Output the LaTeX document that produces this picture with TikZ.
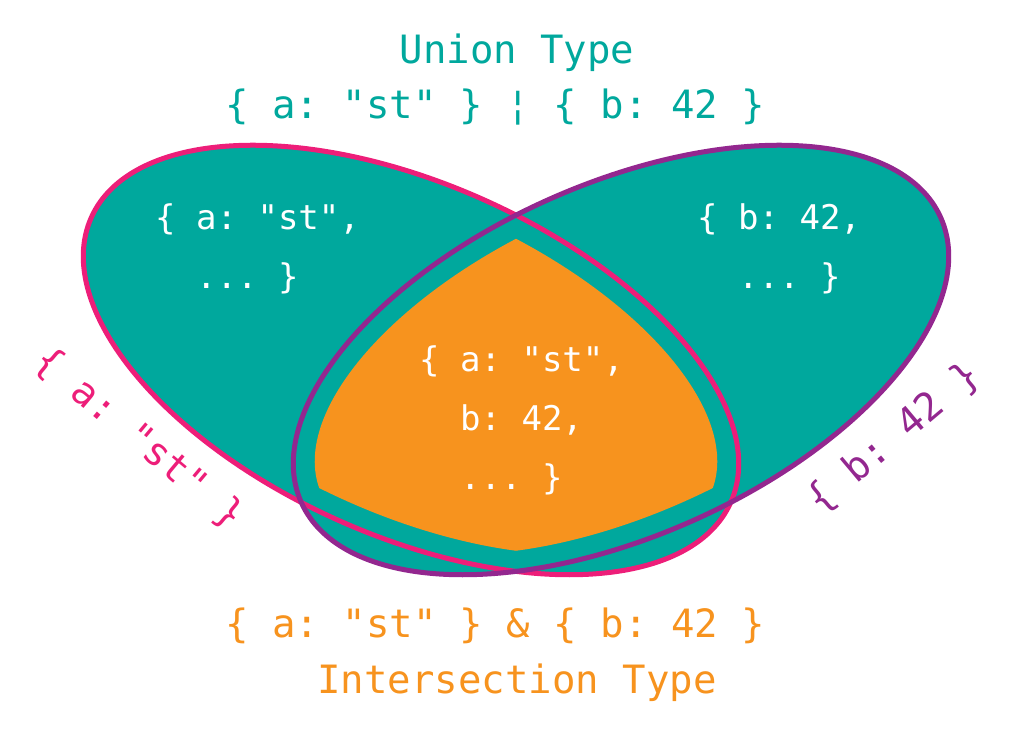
\documentclass[tikz,border=0pt]{standalone}
\usepackage{fontspec}
\newfontfamily\mono{DejaVu Sans Mono}
\definecolor{tealA}{RGB}{0,168,157}
\definecolor{pinkA}{RGB}{237,30,121}
\definecolor{purpleA}{RGB}{147,39,143}
\definecolor{orangeA}{RGB}{247,147,30}
\frenchspacing
\begin{document}
\begin{tikzpicture}[x=1pt,y=1pt,
  title/.style={font=\mono\frenchspacing\fontsize{39}{47}\selectfont, inner sep=0pt},
  inner/.style={font=\mono\frenchspacing\fontsize{34}{59}\selectfont, text=white, align=left, inner sep=0pt, anchor=base west},
  outline/.style={line width=5pt}]
\useasboundingbox (0,0) rectangle (1032,730);
\coordinate (cl) at (411,370);
\coordinate (cr) at (621,370);
% fills
\fill[tealA, rotate around={-24:(cl)}] (cl) ellipse [x radius=350, y radius=176];
\fill[tealA, rotate around={24:(cr)}] (cr) ellipse [x radius=350, y radius=176];
\begin{scope}
  \clip[rotate around={-24:(cl)}] (cl) ellipse [x radius=328, y radius=155];
  \fill[orangeA, rotate around={24:(cr)}] (cr) ellipse [x radius=328, y radius=155];
\end{scope}
% outlines
\draw[outline, pinkA, rotate around={-24:(cl)}] (cl) ellipse [x radius=350, y radius=176];
\draw[outline, purpleA, rotate around={24:(cr)}] (cr) ellipse [x radius=350, y radius=176];
% titles
\node[title, text=tealA, anchor=base] (ut) at (517,666) {Union Type};
\node[title, text=tealA, anchor=base west] (ue) at (225,611) {\{ a: "st" \} ¦ \{ b: 42 \}};
\node[title, text=orangeA, anchor=base west] (ie) at (225,92) {\{ a: "st" \} \& \{ b: 42 \}};
\node[title, text=orangeA, anchor=base] (it) at (517,37) {Intersection Type};
% inner texts (base = baseline of last line)
\node[inner] (la) at (155,441.5) {\{ a: "st",\\\hspace*{1.204em}... \}};
\node[inner] (lb) at (697,441.5) {\{ b: 42,\\\hspace*{1.204em}... \}};
\node[inner] (lab) at (419,240) {\{ a: "st",\\\hspace*{1.204em}b: 42,\\\hspace*{1.204em}... \}};
% side labels
\node[title, text=pinkA, rotate=-40] (pa) at (139,291) {\{ a: "st" \}};
\node[title, text=purpleA, rotate=40] (pb) at (894,292) {\{ b: 42 \}};
\end{tikzpicture}
\end{document}
